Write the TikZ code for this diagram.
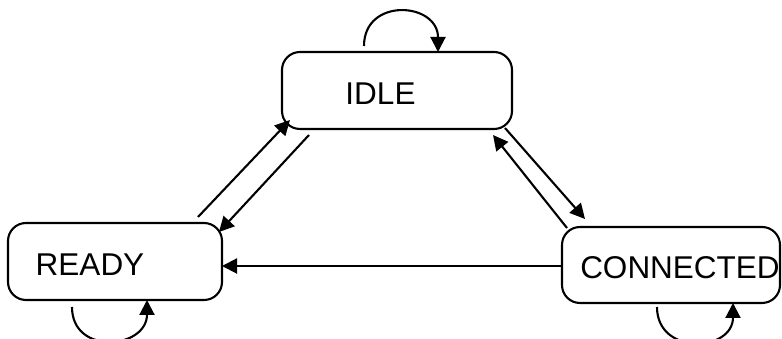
\documentclass[tikz,border=0pt]{standalone}
\usepackage{fontspec}
\setmainfont{Liberation Sans}
\usetikzlibrary{arrows.meta}
\tikzset{
  stateBox/.style={draw=black, line width=2.1pt, rounded corners=18pt, minimum height=77pt, outer sep=0pt, inner sep=0pt},
  stateText/.style={font=\fontsize{31.5}{36}\selectfont, text=black, inner sep=0pt},
  trans/.style={draw=black, line width=2.1pt, -{Triangle[length=15pt,width=15pt]}}
}

\begin{document}
\begin{tikzpicture}[x=1pt,y=1pt]
  \useasboundingbox (0,0) rectangle (782,339);

  % states
  \node[stateBox, minimum width=230pt, label={[stateText,xshift=-16.5pt,yshift=-3.5pt]center:IDLE}] (idle) at (397,248.5) {};
  \node[stateBox, minimum width=214pt, label={[stateText,xshift=-25pt,yshift=-3.5pt]center:READY}] (ready) at (115,77.5) {};
  \node[stateBox, minimum width=218pt, minimum height=76pt, label={[stateText,xshift=9pt,yshift=-3pt]center:CONNECTED}] (conn) at (671,74) {};

  % transitions between states
  \draw[trans] ([shift={(-24pt,6pt)}]ready.north east) -- ([shift={(8pt,9pt)}]idle.south west);
  \draw[trans] ([shift={(27pt,-6pt)}]idle.south west) -- ([shift={(-3pt,-9pt)}]ready.north east);
  \draw[trans] ([shift={(-7pt,1pt)}]idle.south east) -- ([shift={(23pt,8pt)}]conn.north west);
  \draw[trans] ([shift={(5pt,-1pt)}]conn.north west) -- ([shift={(-19pt,-6pt)}]idle.south east);
  \draw[trans] ([yshift=-1pt]conn.west) -- ([yshift=-1pt]conn.west -| ready.east);

  % self loops
  \draw[trans] ([shift={(-33pt,6pt)}]idle.north) .. controls +(0,49) and +(0,50) .. ([xshift=41pt]idle.north);
  \draw[trans] ([shift={(-43pt,-7pt)}]ready.south) .. controls +(0,-49) and +(0,-49) .. ([xshift=32pt]ready.south);
  \draw[trans] ([shift={(-14pt,-4pt)}]conn.south) .. controls +(0,-49) and +(0,-49) .. ([xshift=62pt]conn.south);
\end{tikzpicture}
\end{document}
